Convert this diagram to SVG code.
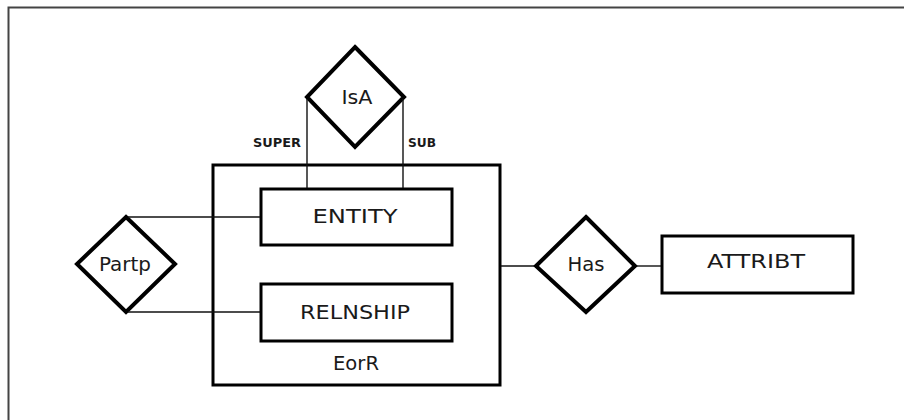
<svg xmlns="http://www.w3.org/2000/svg" width="904" height="420" viewBox="0 0 904 420">
<style>
.box{fill:#fff;stroke:#000;stroke-width:3}
.dia{fill:#fff;stroke:#000;stroke-width:4;stroke-linejoin:miter}
.con{stroke:#111;stroke-width:1.4;fill:none}
.lbl{font-family:"DejaVu Sans",sans-serif;font-size:19px;fill:#1a1a1a;text-anchor:middle}
.role{font-family:"DejaVu Sans",sans-serif;font-size:12px;font-weight:bold;fill:#1a1a1a;text-anchor:middle}
</style>
<rect width="904" height="420" fill="#fff"/>
<path d="M8.5,420 V7.5 H904" fill="none" stroke="#444" stroke-width="2"/>
<g id="EorR">
<rect class="box" x="213" y="165" width="287" height="220"/>
<text class="lbl" x="356" y="370" textLength="46" lengthAdjust="spacingAndGlyphs">EorR</text>
</g>
<g id="ENTITY">
<rect class="box" x="261" y="189" width="191" height="56"/>
<text class="lbl" x="355" y="223" textLength="85" lengthAdjust="spacingAndGlyphs">ENTITY</text>
</g>
<g id="RELNSHIP">
<rect class="box" x="261" y="284" width="191" height="57"/>
<text class="lbl" x="355" y="319" textLength="110" lengthAdjust="spacingAndGlyphs">RELNSHIP</text>
</g>
<g id="IsA">
<polygon class="dia" points="355,47 404,97 355,147 307,97"/>
<text class="lbl" x="357" y="104" textLength="31" lengthAdjust="spacingAndGlyphs">IsA</text>
</g>
<g id="Partp">
<polygon class="dia" points="126,217 175,264 126,312 77,264"/>
<text class="lbl" x="125" y="271" textLength="52" lengthAdjust="spacingAndGlyphs">Partp</text>
</g>
<g id="Has">
<polygon class="dia" points="586,217 635,266 586,312 536,266"/>
<text class="lbl" x="586" y="271" textLength="37" lengthAdjust="spacingAndGlyphs">Has</text>
</g>
<g id="ATTRIBT">
<rect class="box" x="662" y="236" width="191" height="57"/>
<text class="lbl" x="756" y="268" textLength="98" lengthAdjust="spacingAndGlyphs">ATTRIBT</text>
</g>
<g id="connectors">
<line class="con" x1="307" y1="99" x2="307" y2="188"/>
<line class="con" x1="403" y1="99" x2="403" y2="188"/>
<line class="con" x1="128" y1="217" x2="260" y2="217"/>
<line class="con" x1="128" y1="312" x2="260" y2="312"/>
<line class="con" x1="501" y1="266" x2="534" y2="266"/>
<line class="con" x1="637" y1="266" x2="661" y2="266"/>
<text class="role" x="277" y="147" textLength="48" lengthAdjust="spacingAndGlyphs">SUPER</text>
<text class="role" x="422" y="147" textLength="28" lengthAdjust="spacingAndGlyphs">SUB</text>
</g>
</svg>
